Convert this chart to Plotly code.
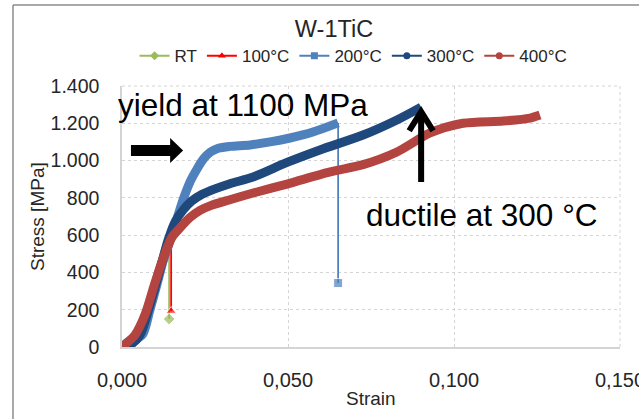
import plotly.graph_objects as go

# Tensile tests of W-1TiC at different temperatures (strain / stress in MPa)
rt_strain = [0.0, 0.0040, 0.0080, 0.0110, 0.0142]
rt_stress = [0, 40, 200, 400, 575]
rt_fracture = [0.0142, 150]

t100_strain = [0.0, 0.0040, 0.0080, 0.0115, 0.0148]
t100_stress = [0, 45, 210, 420, 590]
t100_fracture = [0.0148, 193]

t200_strain = [0.0, 0.0018, 0.0039, 0.0063, 0.0084, 0.0105, 0.0123, 0.0145, 0.0166,
               0.0186, 0.0206, 0.0226, 0.0246, 0.0266, 0.0290, 0.0325, 0.0386,
               0.0446, 0.0506, 0.0575, 0.0651]
t200_stress = [0, 27, 38, 70, 198, 333, 456, 574, 690,
               800, 890, 955, 1010, 1045, 1066, 1076, 1084,
               1100, 1121, 1153, 1202]
t200_fracture = [0.0651, 343]

t300_strain = [0.0, 0.0024, 0.0054, 0.0084, 0.0114, 0.0139, 0.0160, 0.0184, 0.0210,
               0.0240, 0.0280, 0.0325, 0.0395, 0.0497, 0.0596, 0.0726, 0.0828,
               0.0901]
t300_stress = [0, 11, 64, 225, 413, 574, 672, 735, 783,
               818, 848, 876, 912, 990, 1057, 1137, 1218,
               1287]

t400_strain = [0.0, 0.0018, 0.0039, 0.0069, 0.0099, 0.0130, 0.0151, 0.0175, 0.0205,
               0.0235, 0.0265, 0.0325, 0.0395, 0.0497, 0.0627, 0.0726, 0.0828,
               0.0928, 0.1027, 0.1148, 0.1229, 0.1259]
t400_stress = [0, 27, 64, 172, 343, 505, 590, 640, 695,
               733, 757, 790, 826, 874, 939, 978, 1046,
               1148, 1200, 1212, 1228, 1244]

x_ticks = [0.0, 0.05, 0.10, 0.15]
y_ticks = [0, 200, 400, 600, 800, 1000, 1200, 1400]

FONT = "Liberation Sans, Arial, sans-serif"
TXT = "#262626"
GRID = "#D4D4D4"

series = [
    ("RT", rt_strain, rt_stress, rt_fracture, "#9BBB59", "diamond"),
    ("100°C", t100_strain, t100_stress, t100_fracture, "#FF0000", "triangle-up"),
    ("200°C", t200_strain, t200_stress, t200_fracture, "#4F81BD", "square"),
    ("300°C", t300_strain, t300_stress, None, "#1F497D", "circle"),
    ("400°C", t400_strain, t400_stress, None, "#B3443F", "circle"),
]

fig = go.Figure()

# legend entries
for name, sx, sy, frac, color, symbol in series:
    fig.add_trace(go.Scatter(
        x=[None], y=[None], name=name, mode="lines+markers",
        line=dict(color=color, width=2),
        marker=dict(color=color, symbol=symbol, size=7),
        showlegend=True, hoverinfo="skip",
    ))

# curves (dense marker band) and the drop at fracture
for name, sx, sy, frac, color, symbol in series:
    fig.add_trace(go.Scatter(
        x=sx, y=sy, mode="lines", name=name, showlegend=False,
        line=dict(color=color, width=9, shape="spline", smoothing=0.8),
    ))
    if frac is not None:
        fig.add_trace(go.Scatter(
            x=[sx[-1], frac[0]], y=[sy[-1], frac[1]], mode="lines+markers",
            name=name, showlegend=False,
            line=dict(color=color, width=1.8),
            marker=dict(color=color, symbol=symbol, size=[0, 9]),
        ))

# arrows
fig.add_shape(type="path", xref="x", yref="y",
              path="M 0.0027,1083 L 0.0145,1083 L 0.0145,1121 L 0.0184,1054 "
                   "L 0.0145,987 L 0.0145,1024 L 0.0027,1024 Z",
              fillcolor="black", line=dict(width=0), layer="above")
fig.add_shape(type="path", xref="x", yref="y",
              path="M 0.0901,885 L 0.0901,1255 M 0.0865,1160 L 0.0901,1262 L 0.0937,1160",
              line=dict(color="black", width=6), layer="above")

# dotted top and right edges of the plot area
fig.add_shape(type="line", xref="paper", yref="paper", x0=0, x1=1, y0=1, y1=1,
              line=dict(color=GRID, width=1, dash="dot"), layer="below")
fig.add_shape(type="line", xref="paper", yref="paper", x0=1, x1=1, y0=0, y1=1,
              line=dict(color=GRID, width=1, dash="dot"), layer="below")

# chart frame
fig.add_shape(type="line", xref="paper", yref="paper",
              x0=-0.2189, x1=1.05, y0=1.3103, y1=1.3103,
              line=dict(color="#8C8C8C", width=1.5))
fig.add_shape(type="line", xref="paper", yref="paper",
              x0=-0.2189, x1=-0.2189, y0=1.3103, y1=-0.3,
              line=dict(color="#8C8C8C", width=1.5))

fig.add_annotation(x=0.0365, y=1298, xref="x", yref="y", text="yield at 1100 MPa",
                   showarrow=False, xanchor="center", yanchor="middle",
                   font=dict(family=FONT, size=31.5, color="black"))
fig.add_annotation(x=0.1083, y=708, xref="x", yref="y", text="ductile at 300 °C",
                   showarrow=False, xanchor="center", yanchor="middle",
                   font=dict(family=FONT, size=31.5, color="black"))

# axis titles
fig.add_annotation(x=0.5, y=0, xref="paper", yref="paper", text="Strain",
                   showarrow=False, xanchor="center", yanchor="middle", yshift=-51,
                   font=dict(family=FONT, size=19, color=TXT))
fig.add_annotation(x=0, y=0.5, xref="paper", yref="paper", text="Stress [MPa]",
                   showarrow=False, xanchor="center", yanchor="middle", xshift=-84.5,
                   textangle=-90, font=dict(family=FONT, size=19, color=TXT))

fig.update_layout(
    width=639, height=419,
    margin=dict(l=122, r=19, t=86, b=72, autoexpand=False),
    paper_bgcolor="white", plot_bgcolor="white",
    separators=",.",
    font=dict(family=FONT, color=TXT),
    title=dict(text="W-1TiC", x=334 / 639, y=1 - 28.5 / 419, xref="container",
               yref="container", xanchor="center", yanchor="middle",
               font=dict(family=FONT, size=23.5, color=TXT)),
    legend=dict(orientation="h", x=0.465, y=1.114, xanchor="center", yanchor="middle",
                font=dict(family=FONT, size=17, color=TXT), itemwidth=30,
                bgcolor="rgba(0,0,0,0)"),
    showlegend=True,
)
fig.update_xaxes(range=[0, 0.15], tickvals=x_ticks, tickformat=".3f",
                 showgrid=True, gridcolor=GRID, griddash="dot", gridwidth=1,
                 showline=True, linecolor=GRID, linewidth=1.5, zeroline=False,
                 ticks="", ticklabelstandoff=14, ticklabeloverflow="allow",
                 automargin=False,
                 tickfont=dict(family=FONT, size=20, color=TXT))
fig.update_yaxes(range=[0, 1400], tickvals=y_ticks, tickformat=",d",
                 showgrid=True, gridcolor=GRID, griddash="dot", gridwidth=1,
                 showline=True, linecolor=GRID, linewidth=1.5, zeroline=False,
                 ticks="", ticklabelstandoff=17, ticklabeloverflow="allow",
                 automargin=False,
                 tickfont=dict(family=FONT, size=19.5, color=TXT))

fig.write_html("out.html")
